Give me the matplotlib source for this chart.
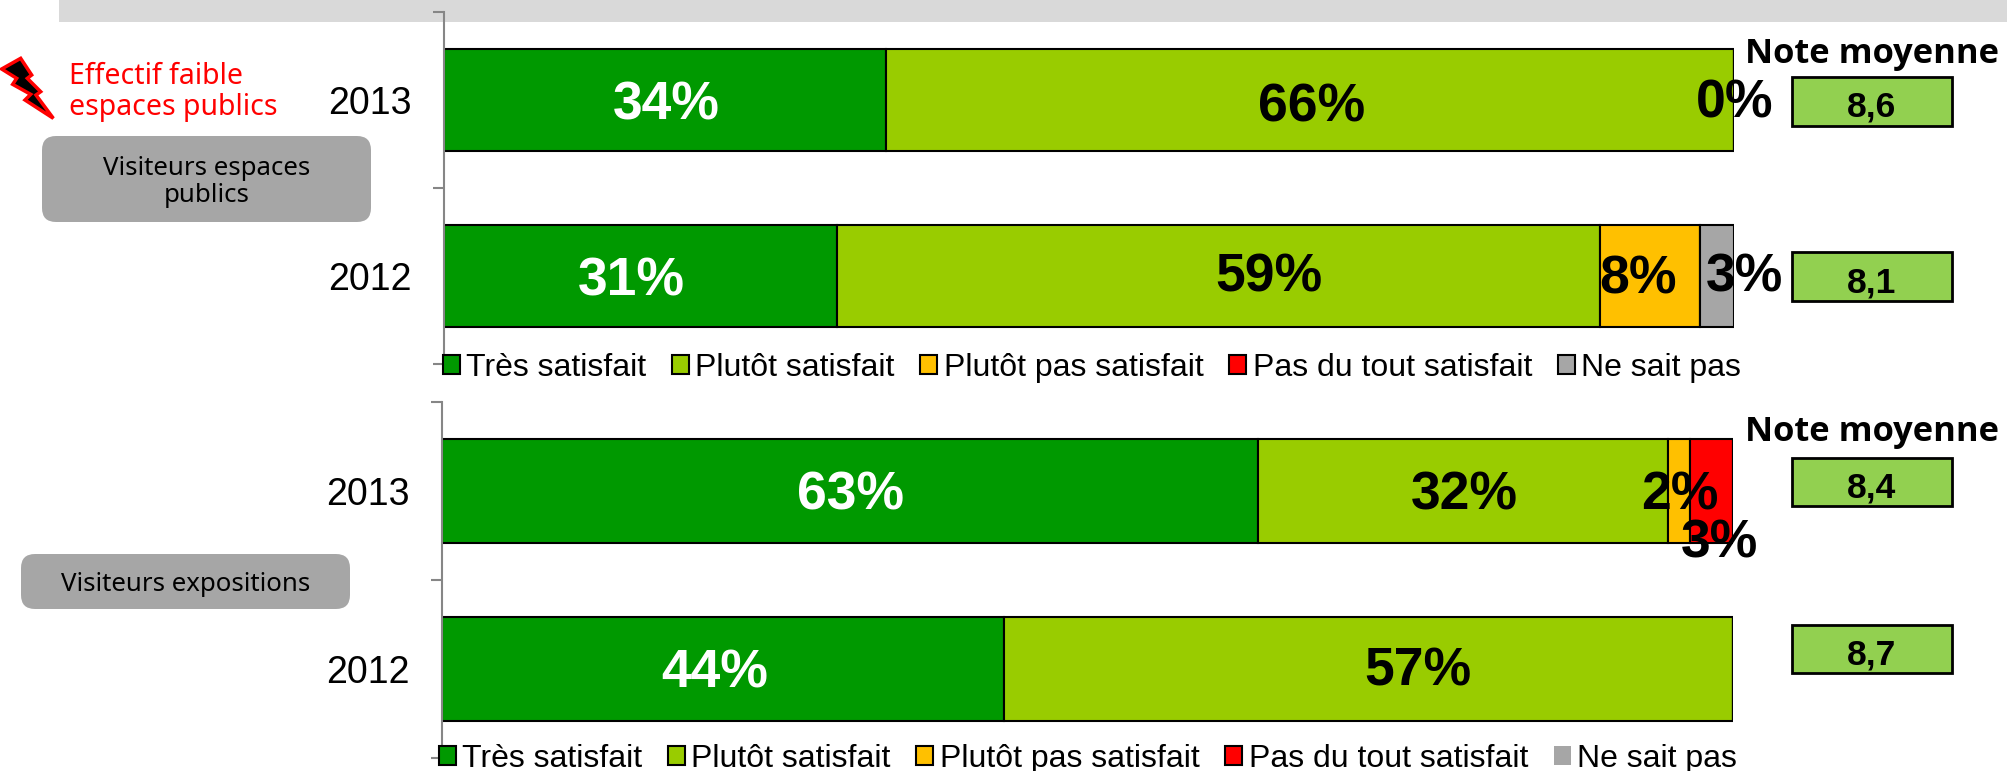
import matplotlib
matplotlib.use("Agg")
import matplotlib.pyplot as plt
from matplotlib.patches import Rectangle, FancyBboxPatch, Polygon

W = 2007
H = 771

categories = ["2012", "2013"]
series_names = ["Très satisfait", "Plutôt satisfait", "Plutôt pas satisfait",
                "Pas du tout satisfait", "Ne sait pas"]
colors = ["#009900", "#99CC00", "#FFC000", "#FF0000", "#A6A6A6"]

# largeurs, 2012 puis 2013
public_tres = [30.5, 34.3]
public_plutot = [59.1, 65.7]
public_plutot_pas = [7.8, 0]
public_pas = [0, 0]
public_nsp = [2.6, 0]
public_labels = [["31%", "59%", "8%", None, "3%"], ["34%", "66%", None, None, "0%"]]
public_notes = ["8,1", "8,6"]

expo_tres = [43.5, 63.2]
expo_plutot = [56.5, 31.8]
expo_plutot_pas = [0, 1.7]
expo_pas = [0, 3.3]
expo_nsp = [0, 0]
expo_labels = [["44%", "57%", None, None, None], ["63%", "32%", "2%", "3%", None]]
expo_notes = ["8,7", "8,4"]

# decalages des etiquettes (pixels) par rapport au centre du segment
public_offsets = [[(-9, 6), (50, 1), (-12, 3), None, (27, 2)],
                  [(1, 6), (1, 8), None, None, (1, 4)]]
expo_offsets = [[(-8, 5), (50, 2), None, None, None],
                [(1, 5), (1, 5), (0, 5), (8, 53), None]]

plt.rcParams['font.family'] = ['Liberation Sans', 'DejaVu Sans']
fig = plt.figure(figsize=(W / 100, H / 100), dpi=100)


def fx(x):
    return x / W


def fy(y):
    return 1 - y / H


def rect_px(left, top, right, bottom, **kw):
    r = Rectangle((fx(left), fy(bottom)), (right - left) / W, (bottom - top) / H,
                  transform=fig.transFigure, **kw)
    fig.add_artist(r)


def make_panel(left, right, top, bottom, values, labels, offsets, legend_x, legend_y, ytick_pad):
    ax = fig.add_axes([fx(left), fy(bottom), (right - left) / W, (bottom - top) / H])
    ax.patch.set_visible(False)
    y = [0.5, 1.5]
    cum = [0, 0]
    bars = []
    for s in range(5):
        b = ax.barh(y, values[s], 0.58, left=cum, color=colors[s], edgecolor='black',
                    linewidth=1.5, label=series_names[s])
        bars.append(b)
        for i in range(2):
            if labels[i][s] is None:
                continue
            dx, dy = offsets[i][s]
            col = 'white' if s == 0 else 'black'
            ax.annotate(labels[i][s], (cum[i] + values[s][i] / 2, y[i]),
                        xytext=(dx * 0.72, -dy * 0.72), textcoords='offset points',
                        ha='center', va='center', fontsize=38.5, fontweight='bold',
                        color=col, zorder=10)
        cum = [cum[i] + values[s][i] for i in range(2)]
    ax.set_xlim(0, 100)
    ax.set_ylim(0, 2)
    ax.set_xticks([])
    for sp in ['top', 'right', 'bottom']:
        ax.spines[sp].set_visible(False)
    ax.spines['left'].set_color('#868686')
    ax.spines['left'].set_linewidth(1.5)
    ax.set_yticks([0, 1, 2])
    ax.set_yticklabels([])
    ax.tick_params(axis='y', which='major', length=8, width=1.5, color='#868686')
    ax.set_yticks(y, minor=True)
    ax.set_yticklabels(categories, minor=True, fontsize=27)
    ax.tick_params(axis='y', which='minor', length=0, pad=ytick_pad)
    leg = ax.legend(handles=bars, ncol=5, loc='center left', frameon=False,
                    bbox_to_anchor=(fx(legend_x), fy(legend_y)), bbox_transform=fig.transFigure,
                    fontsize=23.05, borderpad=0, borderaxespad=0, handlelength=0.53,
                    handleheight=0.53, handletextpad=0.2, columnspacing=0.8)
    return ax, leg


public_values = [public_tres, public_plutot, public_plutot_pas, public_pas, public_nsp]
expo_values = [expo_tres, expo_plutot, expo_plutot_pas, expo_pas, expo_nsp]

# bandeau gris du haut
rect_px(59, 0, W, 22, facecolor='#D9D9D9', edgecolor='none', zorder=-5)

ax1, leg1 = make_panel(444, 1734, 12, 364, public_values, public_labels, public_offsets, 443, 367.5, 23)
ax2, leg2 = make_panel(442, 1733, 402, 758, expo_values, expo_labels, expo_offsets, 439, 759, 23)
leg2.legend_handles[4].set_edgecolor('none')

# notes moyennes
note_boxes = [(252, 301, public_notes[0]), (77, 126, public_notes[1]),
              (625, 673, expo_notes[0]), (458, 506, expo_notes[1])]
for top, bottom, txt in note_boxes:
    rect_px(1792, top, 1952, bottom, facecolor='#92D050', edgecolor='black', linewidth=2)
    fig.text(fx(1872), fy((top + bottom) / 2 + 6), txt, ha='center', va='center',
             fontsize=25.5, fontweight='bold', color='black')

for yy in [54, 432]:
    fig.text(fx(1872), fy(yy), "Note moyenne", ha='center', va='center',
             fontsize=24.8, fontweight='bold', family='Open Sans')


def pill(left, top, right, bottom, txt):
    box = FancyBboxPatch((fx(left) * W + 8, fy(bottom) * H + 8), right - left - 16, bottom - top - 16,
                         boxstyle="round,pad=8,rounding_size=14", facecolor='#A6A6A6',
                         edgecolor='none', transform=None)
    fig.add_artist(box)
    fig.text(fx((left + right) / 2), fy((top + bottom) / 2 + 3), txt, ha='center', va='center',
             fontsize=18.6, family='Noto Sans', linespacing=1.15)


pill(42, 136, 371, 222, "Visiteurs espaces\npublics")
pill(21, 554, 350, 609, "Visiteurs expositions")

fig.text(fx(69), fy(76), "Effectif faible", color='red', fontsize=20.5, family='Noto Sans',
         ha='left', va='center')
fig.text(fx(69), fy(107), "espaces publics", color='red', fontsize=20.5, family='Noto Sans',
         ha='left', va='center')

# eclair
bolt = [(62, 25), (95, 75), (82, 85), (122, 125), (108, 135), (160, 205), (75, 150),
        (92, 133), (38, 103), (50, 85), (5, 57)]
fig.add_artist(Polygon([(fx(p[0] / 3), fy(p[1] / 3 + 50)) for p in bolt], closed=True,
                       facecolor='black', edgecolor='red', linewidth=2.5,
                       transform=fig.transFigure))

fig.savefig("out.png", dpi=100)
